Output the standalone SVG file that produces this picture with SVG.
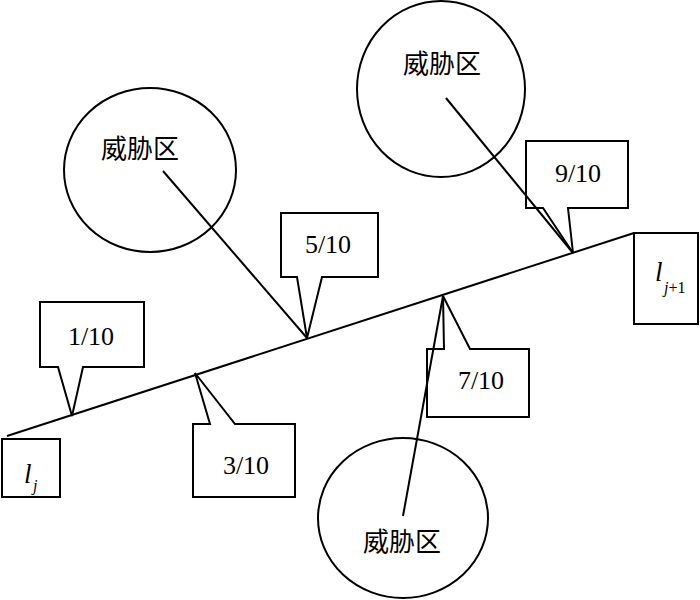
<svg xmlns="http://www.w3.org/2000/svg" width="700" height="600" viewBox="0 0 700 600">
<style>
.s{fill:none;stroke:#000;stroke-width:2;stroke-linejoin:miter}
.t{font-family:"Liberation Serif","Times New Roman","DejaVu Serif",serif;font-size:26px;fill:#000;text-anchor:middle}
.c{font-family:"Liberation Serif","Noto Sans CJK SC",serif;font-size:26px;fill:#000;text-anchor:middle}
.i{font-family:"Liberation Serif","Times New Roman","DejaVu Serif",serif;font-style:italic;fill:#000}
</style>
<rect width="700" height="600" fill="#fff"/>
<g id="zone1"><ellipse class="s" cx="150" cy="170" rx="86" ry="82"/><text class="c" x="140" y="158">威胁区</text></g>
<g id="zone2"><ellipse class="s" cx="441" cy="89" rx="84" ry="88"/><text class="c" x="442" y="73">威胁区</text></g>
<g id="zone3"><ellipse class="s" cx="403" cy="518" rx="85" ry="80"/><text class="c" x="402" y="551">威胁区</text></g>
<g id="lj"><rect class="s" x="2" y="439" width="58" height="58"/><text class="i" x="24" y="483" font-size="27">l</text><text class="i" x="33" y="491" font-size="16">j</text></g>
<g id="lj1"><rect class="s" x="634" y="233" width="64" height="91"/><text class="i" x="655" y="281" font-size="27">l</text><text class="i" x="664" y="293" font-size="16">j<tspan font-style="normal">+1</tspan></text></g>
<g id="c1"><path class="s" d="M40,302H144V367H83L72,416L58,367H40Z"/><text class="t" x="91" y="345">1/10</text></g>
<g id="c3"><path class="s" d="M193,424H210L195,373L235,424H295V497H193Z"/><text class="t" x="246" y="474">3/10</text></g>
<g id="c5"><path class="s" d="M281,213H378V277H322L307,338L297,277H281Z"/><text class="t" x="328" y="253">5/10</text></g>
<g id="c7"><path class="s" d="M427,349H444L443,296L470,349H529V417H427Z"/><text class="t" x="481" y="389">7/10</text></g>
<g id="c9"><path class="s" d="M526,141H628V208H568L573,253L543,208H526Z"/><text class="t" x="578" y="182">9/10</text></g>
<g id="connectors">
<line class="s" x1="7" y1="436" x2="634" y2="233"/>
<line class="s" x1="163" y1="171" x2="307" y2="338"/>
<line class="s" x1="446" y1="98" x2="573" y2="253"/>
<line class="s" x1="403" y1="516" x2="443" y2="296"/>
</g>
</svg>
